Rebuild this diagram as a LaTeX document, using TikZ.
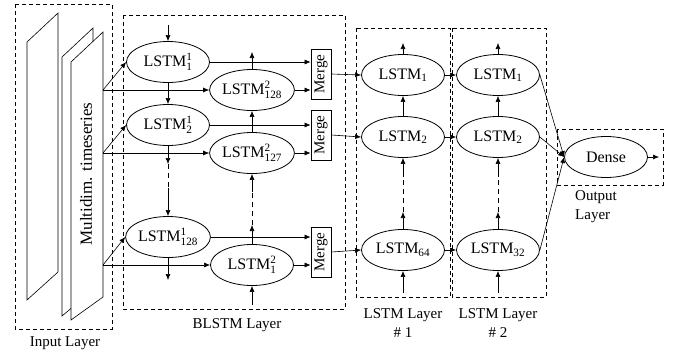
\documentclass[tikz,border=0pt]{standalone}
\usepackage{fontspec}
\usepackage{amsmath}
\setmainfont{Liberation Serif}
\usetikzlibrary{shapes.geometric,arrows.meta}

\begin{document}
\begin{tikzpicture}[x=1pt, y=-1pt,
  cell/.style={ellipse, draw, line width=0.8pt, minimum width=83pt, minimum height=41pt, inner sep=0pt, font=\fontsize{16}{19}\selectfont},
  merge/.style={rectangle, draw, line width=0.8pt, minimum width=20pt, minimum height=50pt, inner sep=0pt, font=\fontsize{15}{18}\selectfont},
  layer/.style={draw, line width=0.8pt, dash pattern=on 4pt off 3pt},
  label/.style={font=\fontsize{15}{19}\selectfont, align=center},
  arrow/.style={-{Latex[length=6pt, width=5pt]}, line width=0.6pt},
  link/.style={line width=0.6pt},
  gap/.style={line width=0.6pt, dash pattern=on 5pt off 4pt},
]
\useasboundingbox (0,0) rectangle (680,354);

% Input layer
\draw[layer] (15,4) rectangle (112,329);
\draw[link, fill=white] (27,42) -- (58,13) -- (58,272) -- (27,300) -- cycle;
\draw[link, fill=white] (62,57) -- (93,28) -- (93,290) -- (62,316) -- cycle;
\draw[link, fill=white] (71,62) -- (103,32) -- (103,297) -- (71,320) -- cycle;
\node[font=\fontsize{17}{20}\selectfont, rotate=90] (series) at (86,174) {Multidim. timeseries};
\node[label] (inlabel) at (65,343) {Input Layer};

% BLSTM layer
\draw[layer] (123,15) rectangle (345,309);
\node[label] (blabel) at (237,325) {BLSTM Layer};

\node[cell] (a1) at (168,62) {LSTM$^{\text{1}}_{\text{1}}$};
\node[cell] (a2) at (168,125) {LSTM$^{\text{1}}_{\text{2}}$};
\node[cell] (a128) at (168,237) {LSTM$^{\text{1}}_{\text{128}}$};
\node[cell] (b128) at (252,90) {LSTM$^{\text{2}}_{\text{128}}$};
\node[cell] (b127) at (252,153) {LSTM$^{\text{2}}_{\text{127}}$};
\node[cell] (b1) at (252,265) {LSTM$^{\text{2}}_{\text{1}}$};

\node[merge] (m1) at (321,74) {\rotatebox{90}{Merge}};
\node[merge] (m2) at (321,135) {\rotatebox{90}{Merge}};
\node[merge] (m3) at (321,252) {\rotatebox{90}{Merge}};

% input connectors
\coordinate (in1) at (103,90);
\coordinate (in2) at (103,153);
\coordinate (in3) at (103,265);
\draw[arrow] (in1) -- (a1.west);
\draw[arrow] (in1) -- (b128.west);
\draw[arrow] (in2) -- (a2.west);
\draw[arrow] (in2) -- (b127.west);
\draw[arrow] (in3) -- (a128.west);
\draw[arrow] (in3) -- (b1.west);

% forward column
\coordinate (a0) at (168,25);
\coordinate (ad1) at (168,164);
\coordinate (ad2) at (168,188);
\coordinate (aout) at (168,280);
\draw[arrow] (a0) -- (a1.north);
\draw[arrow] (a1.south) -- (a2.north);
\draw[arrow] (a2.south) -- (ad1);
\draw[gap] (ad1) -- (ad2);
\draw[arrow] (ad2) -- (a128.north);
\draw[arrow] (a128.south) -- (aout);

% backward column
\coordinate (bin) at (252,305);
\coordinate (bd1) at (252,225);
\coordinate (bd2) at (252,192);
\coordinate (bout) at (252,52);
\draw[arrow] (bin) -- (b1.south);
\draw[arrow] (b1.north) -- (bd1);
\draw[gap] (bd1) -- (bd2);
\draw[arrow] (bd2) -- (b127.south);
\draw[arrow] (b127.north) -- (b128.south);
\draw[arrow] (b128.north) -- (bout);

% into merge
\draw[arrow] (a1.east) -- (a1.east -| m1.west);
\draw[arrow] (b128.east) -- (b128.east -| m1.west);
\draw[arrow] (a2.east) -- (a2.east -| m2.west);
\draw[arrow] (b127.east) -- (b127.east -| m2.west);
\draw[arrow] (a128.east) -- (a128.east -| m3.west);
\draw[arrow] (b1.east) -- (b1.east -| m3.west);

% LSTM layer 1
\draw[layer] (356,28) rectangle (450,297);
\node[label] (l1label) at (403,323) {LSTM Layer\\\# 1};
\node[cell] (p1) at (403,75) {LSTM$_{\text{1}}$};
\node[cell] (p2) at (403,137) {LSTM$_{\text{2}}$};
\node[cell] (p64) at (403,250) {LSTM$_{\text{64}}$};

\coordinate (pin) at (403,293);
\coordinate (pd1) at (403,212);
\coordinate (pd2) at (403,177);
\coordinate (pout) at (403,43);
\draw[arrow] (pin) -- (p64.south);
\draw[arrow] (p64.north) -- (pd1);
\draw[gap] (pd1) -- (pd2);
\draw[arrow] (pd2) -- (p2.south);
\draw[arrow] (p2.north) -- (p1.south);
\draw[arrow] (p1.north) -- (pout);

\draw[arrow] (m1.east) -- (p1.west);
\draw[arrow] (m2.east) -- (p2.west);
\draw[arrow] (m3.east) -- (p64.west);

% LSTM layer 2
\draw[layer] (452,28) rectangle (546,297);
\node[label] (l2label) at (498,323) {LSTM Layer\\\# 2};
\node[cell] (q1) at (498,75) {LSTM$_{\text{1}}$};
\node[cell] (q2) at (498,137) {LSTM$_{\text{2}}$};
\node[cell] (q32) at (498,250) {LSTM$_{\text{32}}$};

\coordinate (qin) at (498,293);
\coordinate (qd1) at (498,212);
\coordinate (qd2) at (498,177);
\coordinate (qout) at (498,43);
\draw[arrow] (qin) -- (q32.south);
\draw[arrow] (q32.north) -- (qd1);
\draw[gap] (qd1) -- (qd2);
\draw[arrow] (qd2) -- (q2.south);
\draw[arrow] (q2.north) -- (q1.south);
\draw[arrow] (q1.north) -- (qout);

\draw[arrow] (p1.east) -- (q1.west);
\draw[arrow] (p2.east) -- (q2.west);
\draw[arrow] (p64.east) -- (q32.west);

% Output layer
\draw[layer] (557,129) rectangle (663,185);
\node[cell] (dense) at (606,157) {Dense};
\node[label, align=left, anchor=north west, inner sep=0pt] (outlabel) at (575,190) {Output\\Layer};
\coordinate (dout) at (659,157);
\draw[arrow] (q1.east) -- (dense.west);
\draw[arrow] (q2.east) -- (dense.west);
\draw[arrow] (q32.east) -- (dense.west);
\draw[arrow] (dense.east) -- (dout);

\end{tikzpicture}
\end{document}
